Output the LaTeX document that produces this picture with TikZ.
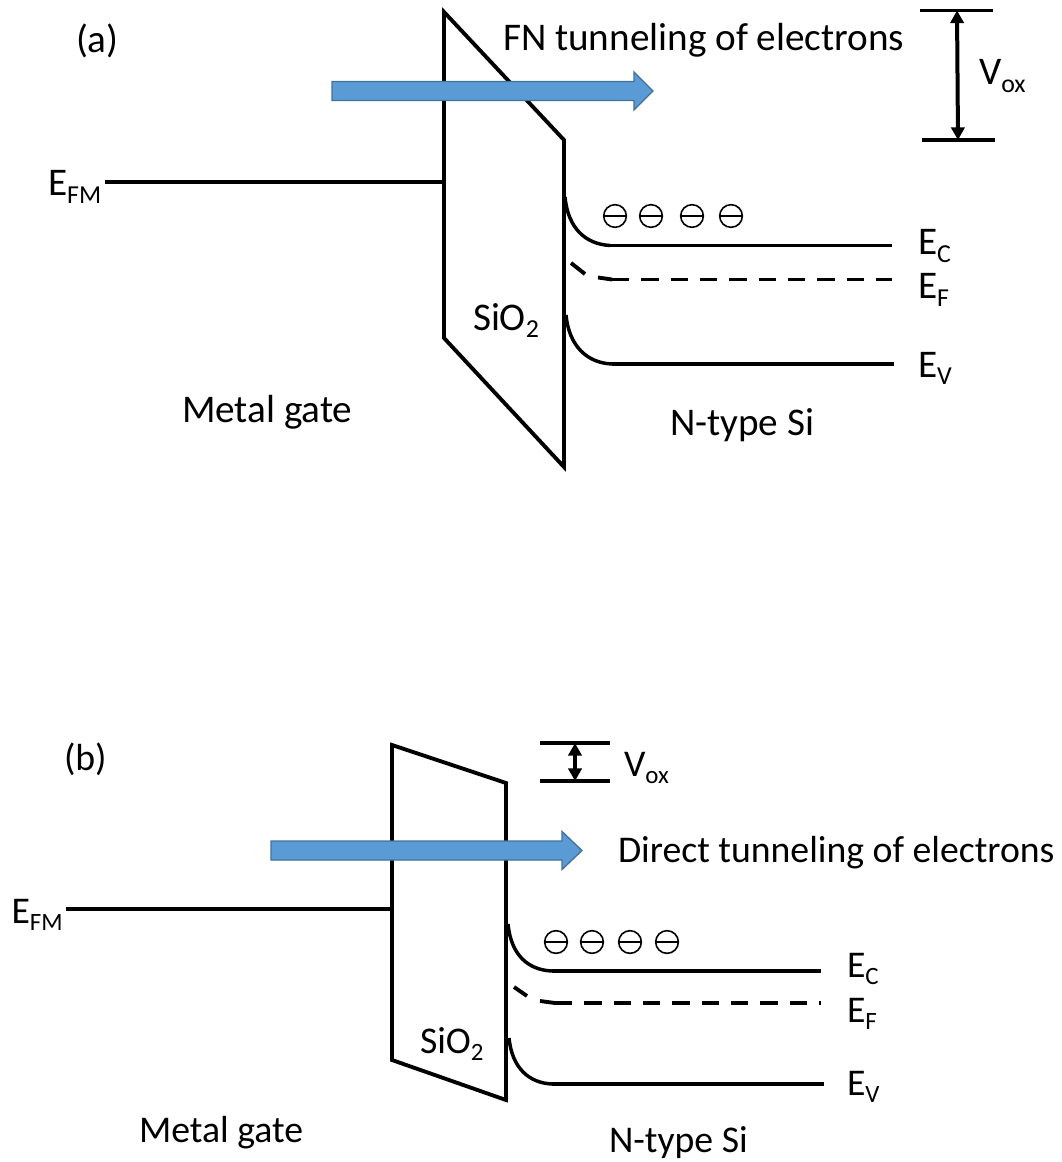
\documentclass[tikz,border=0pt]{standalone}
\usepackage{fontspec}
\setmainfont{Carlito}
\usetikzlibrary{arrows.meta}
\definecolor{blockblue}{HTML}{5B9BD5}
\definecolor{blockedge}{HTML}{41719C}
\newcommand{\lowidx}[1]{\raisebox{-0.2em}{\fontsize{0.66em}{1em}\selectfont #1}}
\tikzset{
  band/.style={line width=2.9pt,black},
  bandcurve/.style={line width=2.6pt,black},
  fermi/.style={line width=2.8pt,black,dash pattern=on 13pt off 9pt},
  oxide/.style={line width=2.9pt,black,line join=miter},
  span/.style={line width=3pt,black,{Triangle[length=9.5pt,width=10pt]}-{Triangle[length=9.5pt,width=10pt]}},
  block/.style={fill=blockblue,draw=blockedge,line width=1pt},
  labela/.style={anchor=base west,inner sep=0pt,outer sep=0pt,font=\fontsize{29.4}{32}\selectfont},
  labelb/.style={anchor=base west,inner sep=0pt,outer sep=0pt,font=\fontsize{28.3}{32}\selectfont},
  carrier/.style={circle,draw=black,line width=1.2pt,minimum size=17pt,inner sep=0pt},
  carrierline/.style={line width=1.2pt,black}
}
\begin{document}
\begin{tikzpicture}[x=0.75pt,y=-0.75pt]
\useasboundingbox (0,0) rectangle (1061,1162);
% Panel (a)
\coordinate (aTL) at (444,12);
\coordinate (aTR) at (564,140);
\coordinate (aBR) at (564,467);
\coordinate (aBL) at (444,338);
\draw[oxide] (aTL) -- (aTR) -- (aBR) -- (aBL) -- cycle;
\coordinate (aF0) at (105,182);
\coordinate (aF1) at (444,182);
\draw[band] (aF0) -- (aF1);
\draw[block] (332,81.5) -- (634,81.5) -- (634,72) -- (653,91) -- (634,110) -- (634,100.5) -- (332,100.5) -- cycle;
\coordinate (aC0) at (565,197);
\coordinate (aC1) at (610,245.5);
\coordinate (aC2) at (892,245.5);
\draw[bandcurve] (aC0) .. controls (568,228) and (585,244) .. (aC1);
\draw[band] (aC1) -- (aC2);
\coordinate (aE0) at (571,263);
\coordinate (aE1) at (612,279.5);
\coordinate (aE2) at (892,279.5);
\draw[band] (aE0) -- (585,274);
\draw[band] (598,277.5) -- (aE1);
\draw[fermi] (aE1) -- (aE2);
\coordinate (aV0) at (566,315);
\coordinate (aV1) at (612,364);
\coordinate (aV2) at (894,364);
\draw[bandcurve] (aV0) .. controls (569,346) and (587,363) .. (aV1);
\draw[band] (aV1) -- (aV2);
\foreach \n/\x in {a1/615,a2/651,a3/692,a4/731}{
  \node[carrier] (\n) at (\x,216) {};
  \draw[carrierline] (\n.west) -- (\n.east);
}
\coordinate (aT0) at (920,10.5);
\coordinate (aT1) at (993,10.5);
\coordinate (aB0) at (922,140);
\coordinate (aB1) at (995,140);
\draw[band] (aT0) -- (aT1);
\draw[band] (aB0) -- (aB1);
\coordinate (aAT) at (957,10.5);
\coordinate (aAB) at (958,140);
\draw[span] (aAT) -- (aAB);
\node[labela] (la) at (76,52.5) {(a)};
\node[labela] (lfn) at (503,51) {FN tunneling of electrons};
\node[labela] (lvoxa) at (979,85) {V\lowidx{ox}};
\node[labela] (lefma) at (48,196) {E\lowidx{FM}};
\node[labela] (lsioa) at (473,330) {SiO\lowidx{2}};
\node[labela] (lmga) at (182,422) {Metal gate};
\node[labela] (lna) at (670,435) {N-type Si};
\node[labela] (leca) at (918,255) {E\lowidx{C}};
\node[labela] (lefa) at (918,299) {E\lowidx{F}};
\node[labela] (leva) at (918,377) {E\lowidx{V}};
% Panel (b)
\coordinate (bTL) at (392,745);
\coordinate (bTR) at (506,783);
\coordinate (bBR) at (506,1100);
\coordinate (bBL) at (392,1060);
\draw[oxide] (bTL) -- (bTR) -- (bBR) -- (bBL) -- cycle;
\coordinate (bF0) at (66,909);
\coordinate (bF1) at (392,909);
\draw[band] (bF0) -- (bF1);
\draw[block] (271,841) -- (562,841) -- (562,831.5) -- (582,850.5) -- (562,869.5) -- (562,860) -- (271,860) -- cycle;
\coordinate (bC0) at (508,924);
\coordinate (bC1) at (552,971);
\coordinate (bC2) at (821,971);
\draw[bandcurve] (bC0) .. controls (511,955) and (528,970) .. (bC1);
\draw[band] (bC1) -- (bC2);
\coordinate (bE0) at (514,987);
\coordinate (bE1) at (555,1003);
\coordinate (bE2) at (821,1003);
\draw[band] (bE0) -- (527,996);
\draw[band] (540,1001) -- (bE1);
\draw[fermi] (bE1) -- (bE2);
\coordinate (bV0) at (509,1038);
\coordinate (bV1) at (552,1084);
\coordinate (bV2) at (824,1084);
\draw[bandcurve] (bV0) .. controls (512,1068) and (529,1083) .. (bV1);
\draw[band] (bV1) -- (bV2);
\foreach \n/\x in {b1/556,b2/592,b3/630,b4/667}{
  \node[carrier] (\n) at (\x,942) {};
  \draw[carrierline] (\n.west) -- (\n.east);
}
\coordinate (bT0) at (540,743);
\coordinate (bT1) at (610,743);
\coordinate (bB0) at (540,781);
\coordinate (bB1) at (610,781);
\draw[band] (bT0) -- (bT1);
\draw[band] (bB0) -- (bB1);
\coordinate (bAT) at (575,743);
\coordinate (bAB) at (575,781);
\draw[span] (bAT) -- (bAB);
\node[labelb] (lb) at (64,770) {(b)};
\node[labelb] (ldt) at (618,862.5) {Direct tunneling of electrons};
\node[labelb] (lvoxb) at (624,776) {V\lowidx{ox}};
\node[labelb] (lefmb) at (11.5,923) {E\lowidx{FM}};
\node[labelb] (lsiob) at (420,1053) {SiO\lowidx{2}};
\node[labelb] (lmgb) at (139,1142) {Metal gate};
\node[labelb] (lnb) at (609,1152) {N-type Si};
\node[labelb] (lecb) at (847,977) {E\lowidx{C}};
\node[labelb] (lefb) at (847,1022) {E\lowidx{F}};
\node[labelb] (levb) at (847,1095) {E\lowidx{V}};
\end{tikzpicture}
\end{document}
